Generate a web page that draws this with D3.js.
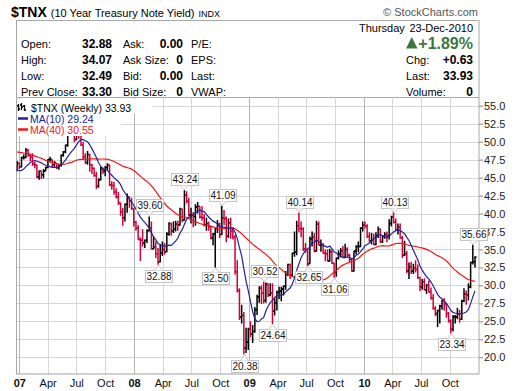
<!DOCTYPE html>
<html><head><meta charset="utf-8">
<script src="https://cdn.jsdelivr.net/npm/d3@7"></script>
<style>
body{margin:0;background:#fff}
svg{display:block}
text{font-family:"Liberation Sans",Arial,sans-serif}
</style>
</head><body>
<svg id="c" width="520" height="391"></svg>
<script>
// ---------- DATA ----------
const firstWeek = "2006-12-25";
// weekly closes before the first plotted week (needed for the moving averages)
const prior2006 = [48.5,49.7,50.0,50.0,50.5,51.0,51.9,50.6,50.6,49.9,49.8,51.1,52.3,51.4,51.0,50.7,50.4,49.8,49.0,49.9,48.5,47.9,47.3,47.9,47.9,45.9,46.3,47.0,48.0,48.0,46.8,47.4,45.9,45.4,45.5,44.4,45.5,46.0,45.9];
const open = [46.0,47.0,46.5,47.8,47.8,48.8,48.1,47.9,46.9,46.8,45.1,45.9,45.4,45.9,46.4,47.5,47.5,46.8,47.0,46.4,46.7,48.1,48.6,49.5,51.1,51.6,51.3,50.3,51.9,51.0,49.5,47.9,47.1,48.2,46.8,46.3,45.3,43.8,44.7,46.2,45.9,46.4,46.8,44.0,43.9,43.0,42.3,41.5,40.2,39.4,41.3,42.3,41.7,40.7,
38.8,38.0,36.4,36.3,35.9,36.3,37.6,38.0,35.1,35.3,34.4,33.3,34.5,35.0,34.7,37.2,38.6,37.6,37.8,38.5,38.4,40.6,39.1,42.6,41.7,39.8,39.8,39.6,40.9,41.0,39.5,39.4,38.4,38.6,38.2,36.6,37.2,37.9,38.5,37.1,39.4,39.3,36.9,38.7,37.6,36.7,31.9,29.3,25.6,25.8,21.3,22.1,
23.9,23.2,23.6,26.6,28.4,29.6,28.9,27.9,30.2,28.7,28.9,26.4,27.6,29.0,29.2,29.5,29.9,31.6,32.9,31.4,34.5,34.6,38.3,37.9,37.8,35.1,35.0,33.0,36.5,36.7,34.8,38.5,35.6,35.6,34.5,34.4,33.4,34.7,33.1,31.9,33.8,34.4,34.8,33.9,35.0,34.2,33.6,32.0,34.8,35.4,35.4,38.0,
38.4,38.3,36.8,36.2,36.3,35.7,36.9,37.8,36.1,36.8,37.1,36.9,38.6,39.5,38.8,37.7,38.1,36.6,34.2,34.4,32.0,32.6,32.0,32.4,32.2,31.1,29.8,30.5,29.4,30.0,29.1,28.2,26.8,26.1,26.5,27.1,27.9,27.4,26.1,25.1,23.9,25.6,25.6,26.0,25.3,27.8,28.8,28.7,29.8,33.2,33.3];
const high = [47.3,47.1,47.9,48.2,49.1,49.0,48.3,48.4,47.2,46.8,46.0,46.0,46.2,46.5,47.6,47.9,47.5,47.3,47.0,46.9,48.2,48.7,49.6,51.4,53.2,52.3,51.5,52.1,52.1,51.3,50.0,48.4,48.7,48.3,46.9,46.4,45.8,44.9,46.5,46.4,46.6,47.0,46.8,44.5,44.4,43.5,43.0,41.5,40.8,41.4,42.8,42.4,42.2,40.7,
39.0,38.4,36.7,37.8,36.4,37.8,39.6,38.9,36.8,36.1,35.2,35.7,36.1,35.9,37.4,38.8,38.7,38.9,39.0,39.0,40.8,40.7,43.24,43.1,42.2,40.8,40.2,41.3,41.6,41.0,41.0,39.9,39.4,38.9,38.3,37.3,38.0,39.1,38.7,41.09,40.5,39.6,39.3,39.4,38.0,37.0,33.5,29.6,27.3,26.3,24.1,24.1,
25.0,24.5,27.0,28.7,29.9,30.0,30.52,30.4,30.3,30.3,30.3,28.2,29.3,29.8,29.8,30.0,32.0,33.0,33.0,34.5,37.5,39.0,40.14,38.9,38.1,35.9,35.0,36.8,37.5,37.3,39.0,38.9,36.4,35.9,35.0,35.0,35.1,35.0,33.2,33.8,34.9,35.2,35.5,35.8,35.3,34.4,33.7,34.8,35.6,36.1,38.1,38.9,
38.9,38.5,37.4,37.3,37.2,37.4,38.2,37.9,36.9,37.4,37.5,39.2,39.7,40.13,39.3,38.6,38.6,36.9,36.2,34.8,33.2,33.3,33.0,33.5,32.9,31.2,30.9,31.0,30.2,30.7,29.7,28.8,27.1,26.6,27.3,28.0,28.2,27.5,26.3,25.3,25.9,25.9,26.9,26.6,28.0,29.6,29.3,30.3,33.3,35.66,34.07];
const low = [45.9,46.2,46.4,47.5,47.7,47.9,47.3,46.6,46.3,44.9,44.7,44.8,44.9,45.9,46.3,47.1,46.4,46.5,46.2,46.1,46.5,47.9,48.4,49.3,51.0,50.8,49.9,50.2,50.4,49.4,47.6,46.9,46.8,45.8,45.5,45.1,43.4,43.6,44.6,45.5,45.2,46.1,43.8,43.3,42.6,42.1,41.2,39.7,38.3,38.9,40.1,40.8,40.5,38.2,
37.6,36.3,33.4,35.4,35.2,35.9,37.5,35.0,35.0,33.8,32.88,33.2,34.1,34.3,34.6,36.9,36.9,37.3,37.5,37.6,38.3,38.8,39.0,41.4,39.6,38.6,38.1,38.3,40.0,39.3,39.0,38.2,37.6,37.6,36.4,35.6,32.50,37.3,36.6,37.0,38.4,36.0,36.6,36.5,36.4,31.5,29.0,25.2,24.7,20.38,20.6,21.0,
22.8,22.0,23.4,25.9,27.6,27.4,27.5,27.6,28.4,28.5,24.64,25.8,26.5,28.1,27.8,28.6,29.4,31.3,30.9,31.2,34.0,34.2,37.4,36.7,34.8,34.5,32.65,33.0,35.4,34.6,34.7,35.6,34.7,34.4,33.4,33.3,33.3,33.0,31.06,31.2,33.6,33.9,33.8,33.8,33.8,33.2,31.9,31.9,34.3,34.6,35.3,37.5,
37.9,36.6,36.0,35.7,35.6,35.6,36.6,35.9,35.9,36.5,36.0,36.4,38.2,38.6,37.7,37.1,36.5,33.8,34.1,31.7,30.9,31.6,31.6,31.8,30.9,29.2,29.4,29.3,28.8,29.0,28.0,26.6,25.7,24.2,24.7,26.6,26.5,25.5,24.8,23.34,23.6,24.7,25.3,24.8,25.2,27.7,27.3,27.9,29.6,32.9,32.49];
const close = [47.0,46.5,47.8,47.8,48.8,48.1,47.9,46.9,46.8,45.1,45.9,45.4,45.9,46.4,47.5,47.5,46.8,47.0,46.4,46.7,48.1,48.6,49.5,51.1,51.6,51.3,50.3,51.9,51.0,49.5,47.9,47.1,48.2,46.8,46.3,45.3,43.8,44.7,46.2,45.9,46.4,46.8,44.0,43.9,43.0,42.3,41.5,40.2,39.4,41.3,42.3,41.7,40.7,38.8,
38.0,36.4,36.3,35.9,36.3,37.6,38.0,35.1,35.3,34.4,33.3,34.5,35.0,34.7,37.2,38.6,37.6,37.8,38.5,38.4,40.6,39.1,42.6,41.7,39.8,39.8,39.6,40.9,41.0,39.5,39.4,38.4,38.6,38.2,36.6,37.2,37.9,38.5,37.1,39.4,39.3,36.9,38.7,37.6,36.7,31.9,29.3,25.6,25.8,21.3,22.1,23.9,
23.2,23.6,26.6,28.4,29.6,28.9,27.9,30.2,28.7,28.9,26.4,27.6,29.0,29.2,29.5,29.9,31.6,32.9,31.4,34.5,34.6,38.3,37.9,37.8,35.1,35.0,33.0,36.5,36.7,34.8,38.5,35.6,35.6,34.5,34.4,33.4,34.7,33.1,31.9,33.8,34.4,34.8,33.9,35.0,34.2,33.6,32.0,34.8,35.4,35.4,38.0,38.4,
38.3,36.8,36.2,36.3,35.7,36.9,37.8,36.1,36.8,37.1,36.9,38.6,39.5,38.8,37.7,38.1,36.6,34.2,34.4,32.0,32.6,32.0,32.4,32.2,31.1,29.8,30.5,29.4,30.0,29.1,28.2,26.8,26.1,26.5,27.1,27.9,27.4,26.1,25.1,23.9,25.6,25.6,26.0,25.3,27.8,28.8,28.7,29.8,33.2,33.3,33.93];
// labelled swing highs / lows: [week index, value, side]
const annotations = [[60,39.60,"high"],[64,32.88,"low"],[76,43.24,"high"],[90,32.50,"low"],[93,41.09,"high"],[103,20.38,"low"],[112,30.52,"high"],[116,24.64,"low"],[128,40.14,"high"],[132,32.65,"low"],[144,31.06,"low"],[171,40.13,"high"],[197,23.34,"low"],[207,35.66,"high"]];
const yTicks = [20,22.5,25,27.5,30,32.5,35,37.5,40,42.5,45,47.5,50,52.5,55];
const maPeriods = [10,40];
const quoteLabels1 = ["Open:","High:","Low:","Prev Close:"];
const quoteValues1 = ["32.88","34.07","32.49","33.30"];
const quoteLabels2 = ["Ask:","Ask Size:","Bid:","Bid Size:"];
const quoteValues2 = ["0.00","0","0.00","0"];
const quoteLabels3 = ["P/E:","EPS:","Last:","VWAP:"];
const rightLabels = ["Chg:","Last:","Volume:"];
const rightValues = ["+0.63","33.93","0"];

// ---------- LAYOUT ----------
const svg = d3.select("#c");
const L = 16.5, R = 479, T = 97.5, B = 374;
const ref = d3.scaleUtc().domain([new Date(Date.UTC(2007,0,1)), new Date(Date.UTC(2010,0,1))]).range([19.3,364]);
const x = d3.scaleUtc().domain([ref.invert(L), ref.invert(R)]).range([L,R]);
const y = d3.scaleLinear().domain([20,55]).range([357.3,105.7]);
const week0 = d3.utcParse("%Y-%m-%d")(firstWeek);
const dates = close.map((_, i) => d3.utcWeek.offset(week0, i));
const xs = i => Math.round(x(dates[i])) + 0.5;

// ---------- HEADER ----------
const title = svg.append("text").attr("x", 11).attr("y", 17);
title.append("tspan").attr("font-weight","bold").attr("font-size",14).text("$TNX");
title.append("tspan").attr("font-size",11).attr("dx",4).text("(10 Year Treasury Note Yield)");
title.append("tspan").attr("font-size",9).attr("dx",4).text("INDX");
svg.append("text").attr("x",478).attr("y",16).attr("text-anchor","end").attr("font-size",11)
  .attr("fill","#555").text("\u00A9 StockCharts.com");

svg.append("rect").attr("x",L).attr("y",20.5).attr("width",R-L).attr("height",T-20.5)
  .attr("fill","#fff").attr("stroke","#a8a8a8");

const rowY = [47.5, 64, 80, 95.5];
const hdr = svg.append("g").attr("font-size",11).attr("fill","#000");
rowY.forEach((yy, k) => {
  hdr.append("text").attr("x",21).attr("y",yy).text(quoteLabels1[k]);
  hdr.append("text").attr("x",112).attr("y",yy).attr("text-anchor","end").attr("font-weight","bold").attr("font-size",12).text(quoteValues1[k]);
  hdr.append("text").attr("x",123).attr("y",yy).text(quoteLabels2[k]);
  hdr.append("text").attr("x",183).attr("y",yy).attr("text-anchor","end").attr("font-weight","bold").attr("font-size",12).text(quoteValues2[k]);
  hdr.append("text").attr("x",191).attr("y",yy).text(quoteLabels3[k]);
});
hdr.append("text").attr("x",359).attr("y",32).text("Thursday");
hdr.append("text").attr("x",473).attr("y",32).attr("text-anchor","end").text("23-Dec-2010");
svg.append("path").attr("d","M406,48.5L417.5,48.5L411.75,37Z").attr("fill","#3b773b");
svg.append("text").attr("x",473).attr("y",49).attr("text-anchor","end").attr("font-weight","bold")
  .attr("font-size",16).attr("fill","#3b773b").text("+1.89%");
rightLabels.forEach((t, k) => {
  hdr.append("text").attr("x",406).attr("y",rowY[k+1]).text(t);
  hdr.append("text").attr("x",473).attr("y",rowY[k+1]).attr("text-anchor","end").attr("font-weight","bold").attr("font-size",12).text(rightValues[k]);
});

// ---------- GRID ----------
const quarters = d3.utcMonth.every(3).range(new Date(Date.UTC(2007,0,1)), new Date(Date.UTC(2011,0,1)));
const grid = svg.append("g");
grid.selectAll("line.h").data(yTicks).join("line")
  .attr("x1",L).attr("x2",R).attr("y1",d=>Math.round(y(d))+0.5).attr("y2",d=>Math.round(y(d))+0.5)
  .attr("stroke","#d6d6d6");
grid.selectAll("line.v").data(quarters).join("line")
  .attr("x1",d=>Math.round(x(d))+0.5).attr("x2",d=>Math.round(x(d))+0.5).attr("y1",T).attr("y2",B)
  .attr("stroke",d=>d.getUTCMonth()===0 ? "#b4b4b4" : "#d6d6d6");
svg.append("line").attr("x1",L).attr("x2",L).attr("y1",T).attr("y2",B).attr("stroke","#a8a8a8");
svg.append("line").attr("x1",R).attr("x2",R).attr("y1",T).attr("y2",B).attr("stroke","#a8a8a8");
svg.append("line").attr("x1",L).attr("x2",R).attr("y1",B).attr("y2",B).attr("stroke","#a0a0a0");

// ---------- PRICE BARS ----------
svg.append("clipPath").attr("id","plot").append("rect").attr("x",L).attr("y",T).attr("width",R-L).attr("height",B-T);
const plot = svg.append("g").attr("clip-path","url(#plot)");
const bars = close.map((c, i) => ({i, o:open[i], h:high[i], l:low[i], c, up: c >= (i ? close[i-1] : open[i])}));
plot.append("g").selectAll("path").data(bars).join("path")
  .attr("d", d => {
    const xx = x(dates[d.i]);
    return `M${xx},${y(d.h)}V${y(d.l)}M${xx-1.6},${y(d.o)}H${xx}M${xx},${y(d.c)}H${xx+1.6}`;
  })
  .attr("fill","none").attr("stroke", d => d.up ? "#000" : "#d0003a").attr("stroke-width",1.5);

// ---------- MOVING AVERAGES ----------
const allClose = prior2006.concat(close);
const off = prior2006.length;
const ma = n => close.map((_, i) => d3.mean(allClose.slice(off + i - n + 1, off + i + 1)));
const ma10 = ma(maPeriods[0]), ma40 = ma(maPeriods[1]);
const line = d3.line().x((d, i) => x(dates[i])).y(d => y(d)).curve(d3.curveLinear);
plot.append("path").attr("d", line(ma40)).attr("fill","none").attr("stroke","#f01818").attr("stroke-width",1.2);
plot.append("path").attr("d", line(ma10)).attr("fill","none").attr("stroke","#22229a").attr("stroke-width",1.2);

// ---------- LEGEND ----------
const leg = svg.append("g").attr("font-family","DejaVu Sans").attr("font-size",10.5);
leg.append("rect").attr("x",L+0.5).attr("y",99).attr("width",136).attr("height",14).attr("fill","#fff");
leg.append("rect").attr("x",L+0.5).attr("y",113).attr("width",104).attr("height",23).attr("fill","#fff");
leg.append("path").attr("d","M18.5,104V111M17,106H18.5M18.5,109H20M21.5,103V110M20,105H21.5M21.5,107H23M24.5,105V111M23,106H24.5M24.5,110H26")
  .attr("stroke","#000").attr("stroke-width",1.3).attr("fill","none");
leg.append("text").attr("x",31).attr("y",111.5).attr("fill","#000").text("$TNX (Weekly) " + close[close.length-1].toFixed(2));
leg.append("line").attr("x1",18).attr("x2",28).attr("y1",118.5).attr("y2",118.5).attr("stroke","#22229a").attr("stroke-width",2.5);
leg.append("text").attr("x",30).attr("y",122.5).attr("fill","#22229a").text(`MA(${maPeriods[0]}) ` + ma10[ma10.length-1].toFixed(2));
leg.append("line").attr("x1",18).attr("x2",28).attr("y1",129.5).attr("y2",129.5).attr("stroke","#f01818").attr("stroke-width",2.5);
leg.append("text").attr("x",30).attr("y",133.5).attr("fill","#f01818").text(`MA(${maPeriods[1]}) ` + ma40[ma40.length-1].toFixed(2));

// ---------- AXES ----------
const yAxis = svg.append("g").attr("transform",`translate(${R},0)`)
  .call(d3.axisRight(y).tickValues(yTicks).tickFormat(d3.format(".1f")).tickSize(4).tickPadding(1));
yAxis.select(".domain").remove();
yAxis.selectAll("line").attr("stroke","#888");
yAxis.selectAll("text").attr("font-family","Liberation Sans, Arial, sans-serif").attr("font-size",11).attr("fill","#222");

const xAxis = svg.append("g").attr("transform",`translate(0,${B})`)
  .call(d3.axisBottom(x).tickValues(quarters)
    .tickFormat(d => d.getUTCMonth()===0 ? d3.utcFormat("%y")(d) : d3.utcFormat("%b")(d))
    .tickSize(0).tickPadding(5.5));
xAxis.select(".domain").remove();
xAxis.selectAll("text").attr("font-family","Liberation Sans, Arial, sans-serif").attr("font-size",11).attr("fill","#111")
  .attr("font-weight", d => d.getUTCMonth()===0 ? "bold" : "normal");

// ---------- ANNOTATIONS ----------
const ann = svg.append("g").attr("font-size",10);
annotations.forEach(([i, v, side]) => {
  const tx = xs(i), ty = y(v);
  const w = 27, h = 12;
  const top = side === "high" ? ty - 5 - h : ty + 5;
  const bx = Math.round(tx - w/2) + 0.5, by = Math.round(top) + 0.5;
  ann.append("rect").attr("x",bx).attr("y",by).attr("width",w).attr("height",h)
    .attr("fill","#fff").attr("stroke","#c4c4c4");
  const edge = side === "high" ? by + h : by;
  const tipY = side === "high" ? ty - 0.5 : ty + 0.5;
  ann.append("path").attr("d",`M${tx-4},${edge}L${tx},${tipY}L${tx+4},${edge}Z`).attr("fill","#fff").attr("stroke","none");
  ann.append("path").attr("d",`M${tx-4},${edge}L${tx},${tipY}L${tx+4},${edge}`).attr("fill","none").attr("stroke","#c4c4c4");
  ann.append("text").attr("x",bx + w/2).attr("y",by + 9.5).attr("text-anchor","middle").attr("fill","#111").text(v.toFixed(2));
});
</script>
</body></html>
